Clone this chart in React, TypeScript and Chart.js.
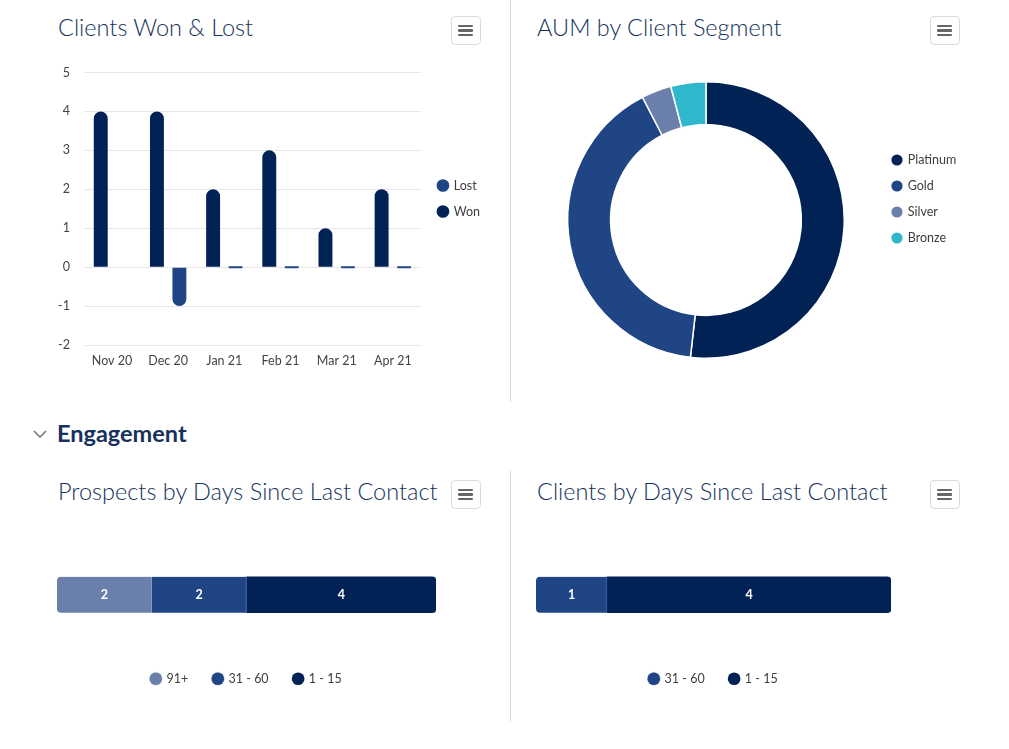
import React, { useEffect, useRef } from "react";
import { Chart, registerables } from "chart.js";

Chart.register(...registerables);

const FONT = "Lato, 'Open Sans', 'Noto Sans', sans-serif";

// ---- data ----
const months = ["Nov 20", "Dec 20", "Jan 21", "Feb 21", "Mar 21", "Apr 21"];
const wonValues = [4, 4, 2, 3, 1, 2];
const lostValues: (number | null)[] = [null, -1, 0, 0, 0, 0];
const yMin = -2;
const yMax = 5;

const segments = ["Platinum", "Gold", "Silver", "Bronze"];
const aumValues = [51.8, 40.6, 3.5, 4.1];

const prospectBuckets = ["91+", "31 - 60", "1 - 15"];
const prospectCounts = [2, 2, 4];
const clientBuckets = ["31 - 60", "1 - 15"];
const clientCounts = [1, 4];

// ---- colours ----
const C_NAVY = "#002255";
const C_BLUE = "#1f4584";
const C_SILVER = "#6b7fab";
const C_CYAN = "#2fb8cc";
const bucketColors: Record<string, string> = { "91+": C_SILVER, "31 - 60": C_BLUE, "1 - 15": C_NAVY };
const bucketEdge: Record<string, string> = { "91+": "#8b9bc0", "31 - 60": "#4a64a0", "1 - 15": C_NAVY };

const TEXT = "#3e3e3c";
const TITLE = "#16325c";

const legendShift = {
  id: "legendShift",
  afterLayout(chart: any, _a: any, opts: any) {
    const lg = chart.legend;
    if (!lg) return;
    const dx = (opts && opts.dx) || 0;
    const dy = (opts && opts.dy) || 0;
    lg.left += dx; lg.right += dx; lg.top += dy; lg.bottom += dy;
  },
};

const segmentLabels = {
  id: "segmentLabels",
  afterDatasetsDraw(chart: any) {
    const ctx = chart.ctx;
    ctx.save();
    ctx.font = `700 12.5px ${FONT}`;
    ctx.fillStyle = "#ffffff";
    ctx.textAlign = "center";
    ctx.textBaseline = "middle";
    chart.data.datasets.forEach((ds: any, i: number) => {
      const meta = chart.getDatasetMeta(i);
      meta.data.forEach((el: any, j: number) => {
        const p = el.getCenterPoint();
        ctx.fillText(String(ds.data[j]), p.x, p.y);
      });
    });
    ctx.restore();
  },
};

const legendLabels = (padding: number) => ({
  usePointStyle: true,
  pointStyle: "circle",
  boxWidth: 9,
  boxHeight: 9,
  padding,
  color: TEXT,
  font: { size: 12.5, family: FONT },
});

function stackedConfig(buckets: string[], counts: number[]): any {
  const last = buckets.length - 1;
  const total = counts.reduce((a, b) => a + b, 0);
  return {
    type: "bar",
    data: {
      labels: [""],
      datasets: buckets.map((b, i) => ({
        label: b,
        data: [counts[i]],
        backgroundColor: bucketColors[b],
        borderColor: bucketEdge[b],
        borderWidth: i < last ? { left: 0, top: 0, bottom: 0, right: 1 } : 0,
        borderSkipped: false,
        borderRadius: {
          topLeft: i === 0 ? 4 : 0,
          bottomLeft: i === 0 ? 4 : 0,
          topRight: i === last ? 4 : 0,
          bottomRight: i === last ? 4 : 0,
        },
        barThickness: 36,
      })),
    },
    options: {
      indexAxis: "y",
      responsive: false,
      animation: false,
      layout: { padding: 0 },
      scales: {
        x: { stacked: true, display: false, min: 0, max: total },
        y: { stacked: true, display: false },
      },
      plugins: {
        legend: { position: "bottom", labels: legendLabels(25) },
        tooltip: { enabled: false },
      },
    },
    plugins: [segmentLabels],
  };
}

function MenuButton({ x, y }: { x: number; y: number }) {
  return (
    <div
      style={{
        position: "absolute", left: x, top: y, width: 28, height: 27,
        border: "1px solid #dddbda", borderRadius: 4, background: "#fff",
      }}
    >
      {[7.5, 12, 16.5].map((t) => (
        <div key={t} style={{ position: "absolute", left: 6, top: t, width: 15, height: 2.6, background: "#666", borderRadius: 1 }} />
      ))}
    </div>
  );
}

function Title({ x, y, text }: { x: number; y: number; text: string }) {
  return (
    <div
      style={{
        position: "absolute", left: x, top: y, fontFamily: FONT, fontWeight: 300,
        fontSize: 23.5, lineHeight: "26px", color: TITLE, whiteSpace: "nowrap",
      }}
    >
      {text}
    </div>
  );
}

export default function App() {
  const barRef = useRef<HTMLCanvasElement>(null);
  const donutRef = useRef<HTMLCanvasElement>(null);
  const pRef = useRef<HTMLCanvasElement>(null);
  const cRef = useRef<HTMLCanvasElement>(null);

  useEffect(() => {
    const charts: Chart[] = [];

    charts.push(
      new Chart(barRef.current!, {
        type: "bar",
        data: {
          labels: months,
          datasets: [
            {
              label: "Won", data: wonValues, backgroundColor: C_NAVY,
              borderRadius: 7, categoryPercentage: 0.8, barPercentage: 0.62,
            },
            {
              label: "Lost", data: lostValues as any, backgroundColor: C_BLUE,
              borderRadius: 7, categoryPercentage: 0.8, barPercentage: 0.62, minBarLength: 2,
            },
          ],
        },
        options: {
          responsive: false,
          animation: false,
          layout: { padding: { left: 14, top: 12, bottom: 12, right: 19 } },
          scales: {
            y: {
              min: yMin, max: yMax,
              ticks: { stepSize: 1, padding: 14, color: "#444", font: { size: 12.5, family: FONT } },
              grid: { color: "#e6e6e6", drawTicks: false },
              border: { display: false },
            },
            x: {
              ticks: { padding: 8, color: "#444", font: { size: 12.5, family: FONT } },
              grid: { display: false, drawTicks: false },
              border: { display: false },
            },
          },
          plugins: {
            legend: { position: "right", reverse: true, labels: legendLabels(13.5) },
            tooltip: { enabled: false },
            legendShift: { dx: 4, dy: -21 },
          } as any,
        },
        plugins: [legendShift],
      } as any)
    );

    charts.push(
      new Chart(donutRef.current!, {
        type: "doughnut",
        data: {
          labels: segments,
          datasets: [
            {
              data: aumValues,
              backgroundColor: [C_NAVY, C_BLUE, C_SILVER, C_CYAN],
              borderColor: "#ffffff",
              borderWidth: 1.5,
            },
          ],
        },
        options: {
          responsive: false,
          animation: false,
          cutout: "69%",
          layout: { padding: { left: 9.5, top: 21, bottom: 21, right: 30.3 } },
          plugins: {
            legend: { position: "right", labels: legendLabels(13.5) },
            tooltip: { enabled: false },
            legendShift: { dx: -3.5, dy: -21 },
          } as any,
        },
        plugins: [legendShift],
      } as any)
    );

    charts.push(new Chart(pRef.current!, stackedConfig(prospectBuckets, prospectCounts)));
    charts.push(new Chart(cRef.current!, stackedConfig(clientBuckets, clientCounts)));

    return () => charts.forEach((c) => c.destroy());
  }, []);

  return (
    <div style={{ position: "absolute", left: 0, top: 0, width: 1009, height: 749, background: "#fff", overflow: "hidden" }}>
      {/* separators */}
      <div style={{ position: "absolute", left: 510, top: 0, width: 1, height: 402, background: "#d8d8d8" }} />
      <div style={{ position: "absolute", left: 510, top: 471, width: 1, height: 250, background: "#d8d8d8" }} />

      <Title x={58} y={14} text="Clients Won & Lost" />
      <Title x={537} y={14} text="AUM by Client Segment" />
      <MenuButton x={451} y={16} />
      <MenuButton x={930} y={16} />

      <canvas ref={barRef} width={475} height={337} style={{ position: "absolute", left: 30, top: 51 }} />
      <canvas ref={donutRef} width={480} height={320} style={{ position: "absolute", left: 520, top: 60 }} />

      {/* section header */}
      <svg width={16} height={12} style={{ position: "absolute", left: 32, top: 428 }}>
        <polyline points="2,3 8,9 14,3" fill="none" stroke="#706e6b" strokeWidth={1.5} />
      </svg>
      <div
        style={{
          position: "absolute", left: 57, top: 420, fontFamily: FONT, fontWeight: 700,
          fontSize: 23.5, lineHeight: "26px", color: TITLE, whiteSpace: "nowrap",
        }}
      >
        Engagement
      </div>

      <Title x={58} y={478} text="Prospects by Days Since Last Contact" />
      <Title x={537} y={478} text="Clients by Days Since Last Contact" />
      <MenuButton x={451} y={480} />
      <MenuButton x={930} y={480} />

      <canvas ref={pRef} width={379} height={153} style={{ position: "absolute", left: 57, top: 542 }} />
      <canvas ref={cRef} width={355} height={153} style={{ position: "absolute", left: 536, top: 542 }} />
    </div>
  );
}
